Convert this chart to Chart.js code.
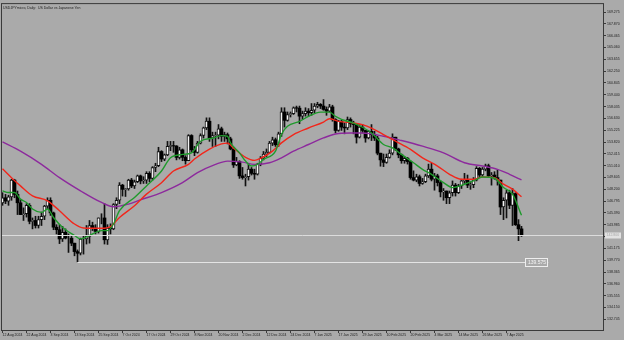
<!DOCTYPE html>
<html lang="en">
<head>
<meta charset="UTF-8">
<title>USDJPY Daily</title>
<script src="https://cdn.jsdelivr.net/npm/chart.js"></script>
<style>
  html, body { margin: 0; padding: 0; background: #aaaaaa; }
  canvas { display: block; }
</style>
</head>
<body>
<canvas id="priceChart" width="624" height="340"></canvas>
<script>
const chartTitle = 'USDJPYmicro, Daily:  US Dollar vs Japanese Yen';

// one label every 8 daily bars, first bar = 12 Aug 2024
const tickDates = ['12 Aug 2024', '22 Aug 2024', '3 Sep 2024', '13 Sep 2024', '25 Sep 2024',
  '7 Oct 2024', '17 Oct 2024', '29 Oct 2024', '8 Nov 2024', '20 Nov 2024', '2 Dec 2024',
  '12 Dec 2024', '24 Dec 2024', '7 Jan 2025', '17 Jan 2025', '29 Jan 2025', '10 Feb 2025',
  '20 Feb 2025', '4 Mar 2025', '14 Mar 2025', '26 Mar 2025', '7 Apr 2025'];

const opens = [
  146.6, 147.2, 146.8, 147.3, 149.3, 147.6, 146.6, 145.2, 145.3, 146.3,
  144.4, 144.5, 143.9, 144.6, 145.0, 146.2, 146.9, 145.4, 143.7, 143.4,
  142.3, 143.1, 142.4, 142.4, 141.8, 140.8, 140.6, 142.3, 142.3, 142.6,
  143.9, 143.6, 143.2, 144.8, 144.8, 142.2, 143.6, 143.5, 146.4, 146.9,
  148.7, 148.2, 148.25, 149.3, 148.6, 149.1, 149.8, 149.2, 149.3, 150.1,
  149.5, 150.8, 151.0, 152.7, 151.8, 152.3, 153.3, 153.4, 153.35, 152.0,
  152.9, 152.0, 151.6, 154.6, 152.9, 152.6, 153.7, 154.6, 155.5, 156.3,
  154.3, 154.6, 154.65, 155.4, 154.5, 154.7, 154.2, 153.0, 151.1, 151.5,
  149.8, 149.6, 149.7, 150.6, 150.1, 150.0, 151.2, 151.9, 152.4, 152.6,
  153.7, 154.1, 153.5, 154.8, 157.4, 156.4, 157.1, 157.2, 157.9, 157.85,
  156.9, 157.2, 157.5, 157.3, 157.6, 158.1, 158.3, 158.1, 157.7, 157.5,
  158.0, 156.5, 155.2, 156.3, 155.6, 155.5, 156.5, 156.0, 155.9, 154.4,
  155.6, 155.2, 154.3, 155.1, 154.7, 154.3, 152.5, 151.7, 151.4, 152.0,
  152.5, 154.4, 153.0, 152.3, 151.6, 151.9, 151.5, 149.6, 149.3, 149.7,
  148.9, 149.1, 149.8, 150.6, 149.4, 149.8, 149.0, 147.9, 148.0, 147.2,
  147.8, 148.7, 147.8, 148.6, 149.2, 149.3, 148.7, 148.75, 149.3, 150.7,
  149.9, 150.6, 151.0, 149.8, 149.9, 149.6, 149.3, 146.1, 146.9, 147.8,
  146.3, 147.7, 144.0, 143.5
];
const highs = [
  147.8, 147.6, 147.5, 149.4, 149.4, 148.0, 147.0, 146.0, 146.5, 146.5,
  144.8, 145.0, 145.0, 145.5, 146.3, 147.2, 147.2, 145.5, 144.0, 144.0,
  143.8, 143.5, 142.9, 142.7, 141.8, 141.0, 142.4, 142.7, 143.9, 144.5,
  144.3, 144.0, 144.8, 145.3, 146.5, 144.0, 144.1, 146.5, 147.2, 149.0,
  148.8, 148.3, 149.4, 149.5, 149.3, 149.9, 149.9, 149.7, 150.3, 150.3,
  150.9, 151.3, 153.2, 152.8, 152.4, 153.9, 153.9, 153.9, 153.4, 153.2,
  153.0, 152.2, 154.7, 154.7, 153.3, 153.9, 154.8, 155.6, 156.7, 156.7,
  155.0, 155.0, 155.9, 155.6, 155.0, 154.9, 154.4, 153.2, 152.0, 151.6,
  150.8, 150.0, 151.2, 150.8, 150.6, 151.3, 152.1, 152.7, 153.0, 153.9,
  154.4, 154.3, 155.0, 157.9, 157.9, 157.4, 157.4, 158.0, 158.1, 158.1,
  157.5, 157.9, 157.8, 158.4, 158.4, 158.55, 158.4, 158.87, 158.0, 158.3,
  158.2, 156.6, 156.4, 156.4, 156.1, 156.8, 156.7, 156.3, 156.0, 155.9,
  155.9, 155.2, 155.2, 155.9, 155.1, 154.5, 152.5, 152.4, 152.4, 152.9,
  154.8, 154.4, 153.1, 152.4, 152.1, 152.0, 151.6, 150.4, 150.0, 149.9,
  149.5, 150.0, 151.2, 151.3, 150.1, 150.0, 149.2, 148.3, 148.0, 148.0,
  149.2, 148.9, 148.8, 149.4, 150.1, 149.9, 149.1, 149.6, 150.9, 150.8,
  150.8, 151.2, 151.2, 150.2, 150.3, 150.5, 149.3, 147.2, 148.1, 148.1,
  148.3, 147.8, 144.6, 143.8
];
const lows = [
  146.3, 146.5, 146.3, 146.9, 147.2, 145.2, 145.2, 144.5, 144.9, 144.1,
  143.5, 143.6, 143.6, 143.9, 144.6, 145.9, 145.1, 143.4, 142.9, 141.75,
  142.0, 142.3, 140.7, 141.5, 140.3, 139.58, 140.4, 140.5, 141.7, 141.8,
  143.3, 142.9, 143.0, 144.1, 141.7, 141.65, 142.9, 143.4, 145.9, 146.5,
  147.4, 147.35, 148.1, 148.4, 148.3, 149.0, 148.85, 148.9, 148.9, 149.1,
  149.3, 150.3, 150.9, 151.5, 151.6, 152.2, 152.8, 152.6, 151.7, 151.8,
  151.6, 151.2, 151.6, 152.6, 152.2, 152.5, 153.6, 154.3, 155.3, 153.9,
  153.3, 153.3, 154.2, 153.9, 153.9, 153.6, 152.9, 150.8, 151.0, 149.5,
  149.4, 148.6, 149.3, 149.9, 149.4, 149.9, 151.0, 151.7, 152.1, 152.5,
  153.4, 153.3, 153.3, 154.5, 155.6, 156.3, 156.8, 157.1, 157.4, 156.0,
  156.5, 156.9, 156.9, 157.0, 157.3, 157.9, 157.8, 157.6, 157.0, 157.4,
  156.3, 154.9, 155.1, 155.2, 154.8, 155.3, 155.6, 154.8, 153.7, 154.3,
  154.9, 153.8, 154.2, 154.0, 154.0, 152.3, 150.95, 150.9, 151.3, 151.9,
  152.3, 152.8, 151.95, 151.3, 151.3, 151.2, 149.4, 149.2, 149.1, 148.6,
  148.8, 149.0, 149.6, 149.2, 148.1, 148.6, 147.3, 146.9, 146.5, 146.5,
  147.4, 147.4, 147.7, 148.3, 148.9, 148.4, 148.2, 148.4, 149.2, 149.6,
  149.7, 150.4, 149.6, 148.7, 149.4, 148.7, 145.2, 144.6, 144.8, 145.9,
  143.9, 143.9, 142.1, 142.6
];
const closes = [
  147.2, 146.8, 147.3, 149.3, 147.6, 146.6, 145.2, 145.3, 146.3, 144.4,
  144.5, 143.9, 144.6, 145.0, 146.2, 146.9, 145.4, 143.7, 143.4, 142.3,
  143.1, 142.4, 142.4, 141.8, 140.8, 140.6, 142.3, 142.3, 142.6, 143.9,
  143.6, 143.2, 144.8, 144.8, 142.2, 143.6, 143.5, 146.4, 146.9, 148.7,
  148.2, 148.25, 149.3, 148.6, 149.1, 149.8, 149.2, 149.3, 150.1, 149.5,
  150.8, 151.0, 152.7, 151.8, 152.3, 153.3, 153.4, 153.35, 152.0, 152.9,
  152.0, 151.6, 154.6, 152.9, 152.6, 153.7, 154.6, 155.5, 156.3, 154.3,
  154.6, 154.65, 155.4, 154.5, 154.7, 154.2, 153.0, 151.1, 151.5, 149.8,
  149.6, 149.7, 150.6, 150.1, 150.0, 151.2, 151.9, 152.4, 152.6, 153.7,
  154.1, 153.5, 154.8, 157.4, 156.4, 157.1, 157.2, 157.9, 157.85, 156.9,
  157.2, 157.5, 157.3, 157.6, 158.1, 158.3, 158.1, 157.7, 157.5, 158.0,
  156.5, 155.2, 156.3, 155.6, 155.5, 156.5, 156.0, 155.9, 154.4, 155.6,
  155.2, 154.3, 155.1, 154.7, 154.3, 152.5, 151.7, 151.4, 152.0, 152.5,
  154.4, 153.0, 152.3, 151.6, 151.9, 151.5, 149.6, 149.3, 149.7, 148.9,
  149.1, 149.8, 150.6, 149.4, 149.8, 149.0, 147.9, 148.0, 147.2, 147.8,
  148.7, 147.8, 148.6, 149.2, 149.3, 148.7, 148.75, 149.3, 150.7, 149.9,
  150.6, 151.0, 149.8, 149.9, 149.6, 149.3, 146.1, 146.9, 147.8, 146.3,
  147.7, 144.0, 143.5, 142.8
];

// moving averages as [bar index, price]
const fastMA = [[0,148.02],[2,147.82],[4,147.82],[6,147.04],[8,146.64],[10,145.86],[13,145.46],
  [15,145.86],[17,144.86],[20,143.69],[24,142.71],[26,142.31],[29,142.71],[33,143.29],[35,143.29],
  [37,144.08],[39,145.66],[44,147.23],[48,148.61],[53,150.38],[56,151.95],[60,152.35],[63,152.54],
  [66,153.92],[70,154.28],[73,154.59],[75,154.51],[76,153.72],[79,152.54],[81,151.56],[83,150.97],
  [85,151.17],[87,151.76],[91,152.74],[93,154.75],[95,155.69],[99,156.28],[102,156.87],[106,157.38],
  [109,157.38],[111,156.87],[113,156.52],[117,156.08],[120,155.58],[123,154.90],[127,153.53],
  [130,153.13],[133,152.35],[137,151.36],[140,150.58],[143,149.99],[147,149.00],[150,148.41],
  [154,148.81],[157,149.20],[160,149.67],[164,149.52],[167,148.41],[170,147.63],[173,145.11]];
const midMA = [[0,150.65],[3,149.59],[6,148.61],[10,147.43],[15,146.84],[19,145.66],[24,144.08],
  [27,143.61],[33,143.57],[36,143.77],[39,144.86],[44,146.25],[48,147.63],[53,148.99],[57,150.38],
  [62,151.17],[64,151.80],[69,152.98],[73,153.60],[75,153.70],[77,153.10],[81,152.00],[84,151.64],
  [86,151.88],[90,152.74],[93,153.72],[97,154.71],[102,155.49],[107,156.20],[109,156.60],
  [112,156.28],[117,156.08],[120,155.89],[123,155.49],[127,154.71],[131,153.92],[136,152.94],
  [140,151.95],[145,150.97],[149,149.99],[153,149.40],[157,149.40],[160,149.67],[164,149.59],
  [167,148.81],[170,148.22],[173,147.31]];
const slowMA = [[0,153.84],[6,152.74],[13,151.17],[19,149.59],[26,148.02],[33,146.64],[37,146.13],
  [42,146.45],[46,146.95],[53,147.82],[60,149.00],[65,150.18],[71,151.17],[75,151.56],[80,151.44],
  [84,151.17],[89,151.36],[93,151.95],[97,152.74],[102,153.53],[107,154.31],[111,154.78],
  [116,154.90],[120,154.90],[127,154.51],[133,154.00],[140,153.33],[147,152.54],[154,151.36],
  [160,150.97],[165,150.58],[169,149.99],[173,149.32]];

const priceTicks = [132.745, 134.150, 135.555, 136.960, 138.365, 139.770, 141.175, 142.580,
  143.985, 145.390, 146.795, 148.200, 149.605, 151.010, 152.415, 153.820, 155.225, 156.630,
  158.035, 159.440, 160.845, 162.250, 163.655, 165.060, 166.465, 167.870, 169.275];
const yMin = 131.36, yMax = 170.34;

const priceLevel = 142.8;      // current bid line
const supportLevel = 139.575;  // horizontal line from the September low
const supportFrom = 25, supportTo = 182;

// ---- build chart ----
const slots = 201; // bars plus empty space on the right, 3px each
const categories = new Array(slots).fill('');
tickDates.forEach((d, i) => { categories[i * 8] = d; });

const isUp = opens.map((o, i) => closes[i] >= o);
const sparse = pts => {
  const arr = new Array(opens.length).fill(null);
  pts.forEach(([i, v]) => { arr[i] = v; });
  return arr;
};

const font = { family: 'Liberation Sans', size: 3.5 };
const ink = '#1c1c1c';
const frameColor = '#3a3a3a';

const chartDecor = {
  id: 'chartDecor',
  beforeDraw(chart) {
    const ctx = chart.ctx;
    ctx.save();
    ctx.fillStyle = '#aaaaaa';
    ctx.fillRect(0, 0, chart.width, chart.height);
    ctx.restore();
  },
  afterDatasetsDraw(chart) {
    const { ctx, chartArea: a, scales: { x, y } } = chart;
    ctx.save();
    ctx.lineWidth = 1;
    // current price line
    const py = Math.round(y.getPixelForValue(priceLevel)) + 0.5;
    ctx.strokeStyle = '#dcdcdc';
    ctx.beginPath(); ctx.moveTo(a.left, py); ctx.lineTo(a.right, py); ctx.stroke();
    // support line
    const sy = Math.round(y.getPixelForValue(supportLevel)) + 0.5;
    const sx0 = x.getPixelForValue(supportFrom), sx1 = x.getPixelForValue(supportTo);
    ctx.strokeStyle = '#e4e4e4';
    ctx.beginPath(); ctx.moveTo(sx0, sy); ctx.lineTo(sx1, sy); ctx.stroke();
    // support label
    ctx.font = '5px "Liberation Sans"';
    const txt = supportLevel.toFixed(3);
    const w = ctx.measureText(txt).width + 5;
    ctx.fillStyle = '#aaaaaa';
    ctx.fillRect(sx1 - w, sy - 4.5, w, 9);
    ctx.strokeStyle = '#eeeeee';
    ctx.strokeRect(Math.round(sx1 - w) + 0.5, sy - 4, Math.round(w) - 1, 8);
    ctx.fillStyle = '#f4f4f4';
    ctx.textBaseline = 'middle';
    ctx.fillText(txt, sx1 - w + 2.5, sy + 0.5);
    // title
    ctx.font = '3.5px "Liberation Sans"';
    ctx.fillStyle = ink;
    ctx.textBaseline = 'top';
    ctx.fillText(chartTitle, a.left + 2, a.top + 3);
    ctx.restore();
  },
  afterDraw(chart) {
    const { ctx, chartArea: a, scales: { y } } = chart;
    ctx.save();
    ctx.strokeStyle = frameColor;
    ctx.lineWidth = 1;
    ctx.strokeRect(a.left + 0.5, a.top + 0.5, a.right - a.left - 1, a.bottom - a.top - 1);
    // price label on the axis
    const py = Math.round(y.getPixelForValue(priceLevel)) + 0.5;
    ctx.fillStyle = '#e2e2e2';
    ctx.fillRect(a.right + 1, py - 3, 16, 6);
    ctx.fillStyle = '#a8a8a8';
    ctx.font = '3.5px "Liberation Sans"';
    ctx.textBaseline = 'middle';
    ctx.fillText(priceLevel.toFixed(3), a.right + 2.5, py);
    ctx.restore();
  }
};

new Chart(document.getElementById('priceChart'), {
  type: 'bar',
  data: {
    labels: categories,
    datasets: [
      { type: 'line', data: sparse(fastMA), borderColor: '#1f9a2c', borderWidth: 1.4,
        pointRadius: 0, spanGaps: true, cubicInterpolationMode: 'monotone', order: 0 },
      { type: 'line', data: sparse(midMA), borderColor: '#f2261b', borderWidth: 1.4,
        pointRadius: 0, spanGaps: true, cubicInterpolationMode: 'monotone', order: 0 },
      { type: 'line', data: sparse(slowMA), borderColor: '#8d2a9d', borderWidth: 1.4,
        pointRadius: 0, spanGaps: true, cubicInterpolationMode: 'monotone', order: 0 },
      { data: opens.map((o, i) => [o, closes[i]]), grouped: false, barThickness: 3,
        backgroundColor: isUp.map(u => u ? '#f3f3f3' : '#000000'),
        borderColor: '#111111', borderWidth: isUp.map(u => u ? 1 : 0),
        borderSkipped: false, order: 1 },
      { data: lows.map((l, i) => [l, highs[i]]), grouped: false, barThickness: 1,
        backgroundColor: '#111111', order: 2 }
    ]
  },
  options: {
    responsive: false,
    devicePixelRatio: 1,
    animation: false,
    layout: { padding: { left: 1, top: 1, right: 0, bottom: 0 } },
    plugins: { legend: { display: false }, tooltip: { enabled: false } },
    scales: {
      x: {
        type: 'category',
        offset: true,
        border: { display: false },
        grid: { drawOnChartArea: false, drawTicks: true, tickLength: 2, color: frameColor, offset: false },
        ticks: { autoSkip: false, maxRotation: 0, minRotation: 0, align: 'start', padding: 0,
          color: ink, font: font },
        afterBuildTicks: s => { s.ticks = s.ticks.filter(t => categories[t.value] !== ''); },
        afterFit: s => { s.height = 9; }
      },
      y: {
        position: 'right',
        min: yMin,
        max: yMax,
        border: { display: false },
        grid: { drawOnChartArea: false, drawTicks: true, tickLength: 2, color: frameColor },
        ticks: { padding: 1, color: ink, font: font, callback: v => v.toFixed(3) },
        afterBuildTicks: s => { s.ticks = priceTicks.map(v => ({ value: v })); },
        afterFit: s => { s.width = 20; }
      }
    }
  },
  plugins: [chartDecor]
});
</script>
</body>
</html>
